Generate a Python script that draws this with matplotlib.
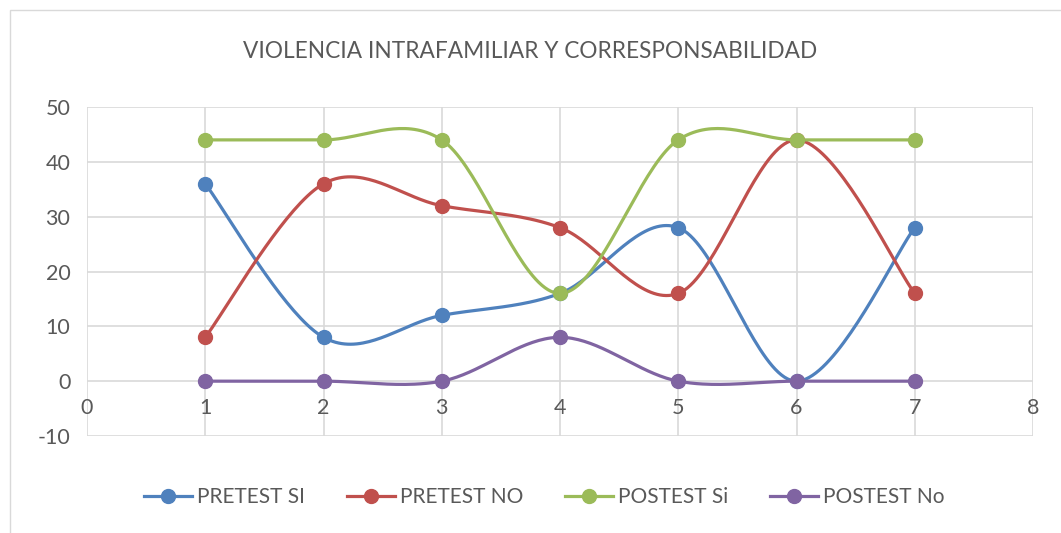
import numpy as np
import matplotlib.pyplot as plt
from matplotlib.patches import Rectangle

x = [1, 2, 3, 4, 5, 6, 7]
pretest_si = [36, 8, 12, 16, 28, 0, 28]
pretest_no = [8, 36, 32, 28, 16, 44, 16]
postest_si = [44, 44, 44, 16, 44, 44, 44]
postest_no = [0, 0, 0, 8, 0, 0, 0]

names = ["PRETEST SI", "PRETEST NO", "POSTEST Si", "POSTEST No"]
colors = ["#4F81BD", "#C0504D", "#9BBB59", "#8064A2"]
title = "VIOLENCIA INTRAFAMILIAR Y CORRESPONSABILIDAD"


def smooth(xs, ys, n=40):
    # excel-like smoothed line: catmull-rom bezier between points
    p = np.column_stack([xs, ys]).astype(float)
    p = np.vstack([p[0], p, p[-1]])
    out = []
    for i in range(1, len(p) - 2):
        p0, p1, p2, p3 = p[i - 1], p[i], p[i + 1], p[i + 2]
        c1 = p1 + (p2 - p0) / 6
        c2 = p2 - (p3 - p1) / 6
        t = np.linspace(0, 1, n)[:, None]
        seg = ((1 - t) ** 3) * p1 + 3 * ((1 - t) ** 2) * t * c1 + 3 * (1 - t) * t ** 2 * c2 + t ** 3 * p2
        out.append(seg)
    out = np.vstack(out)
    return out[:, 0], out[:, 1]


plt.rcParams['font.family'] = ['Lato', 'DejaVu Sans']
plt.rcParams['axes.unicode_minus'] = False
fig = plt.figure(figsize=(10.61, 5.33), dpi=100)
fig.patches.append(Rectangle((10 / 1061, -0.05), 1.0, 1.05 - 10 / 533, transform=fig.transFigure,
                             fill=False, edgecolor="#D9D9D9", linewidth=1))
ax = fig.add_axes([87 / 1061, (533 - 436) / 533, (1033 - 87) / 1061, (436 - 107) / 533])

for ys, name, c in zip([pretest_si, pretest_no, postest_si, postest_no], names, colors):
    sx, sy = smooth(x, ys)
    ax.plot(sx, sy, color=c, linewidth=2.3, zorder=3)
    ax.plot(x, ys, 'o', color=c, markersize=10, zorder=4)
    ax.plot([], [], '-o', color=c, linewidth=2.3, markersize=10, label=name)

ax.set_xlim(0, 8)
ax.set_ylim(-10, 50)
ax.set_xticks(range(0, 9))
ax.set_yticks(range(-10, 51, 10))
ax.grid(True, color="#D9D9D9", linewidth=1.2, zorder=0)
ax.set_axisbelow(True)
for s in ['top', 'right', 'left']:
    ax.spines[s].set_visible(False)
ax.spines['bottom'].set_position(('data', 0))
ax.spines['bottom'].set_color('none')
ax.tick_params(length=0, labelsize=15.5, labelcolor="#595959")
ax.tick_params(axis='x', pad=12)
ax.tick_params(axis='y', pad=12)

fig.text(0.5, 1 - 52 / 533, title, ha='center', va='center', fontsize=16.3, color="#595959")
fig.legend(loc='center', bbox_to_anchor=(0.513, 1 - 497 / 533), ncol=4, frameon=False,
           fontsize=15, labelcolor="#595959", handlelength=2.3, columnspacing=2.0, handletextpad=0.25)

fig.savefig("out.png", dpi=100)
